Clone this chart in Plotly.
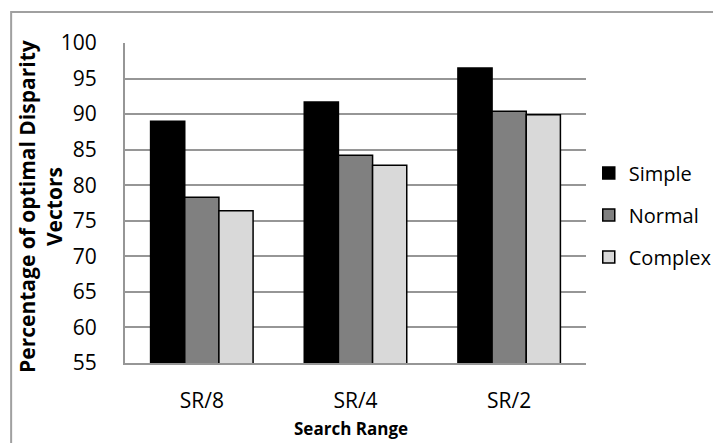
import plotly.graph_objects as go

# Search-range categories and the share of optimal disparity vectors per scene type
categories = ["SR/8", "SR/4", "SR/2"]
simple = [89.0, 91.7, 96.5]
normal = [78.3, 84.2, 90.4]
complex_ = [76.4, 82.8, 89.9]

series = [
    ("Simple", simple, "#000000"),
    ("Normal", normal, "#808080"),
    ("Complex", complex_, "#d9d9d9"),
]

FONT = "Open Sans, Lato, sans-serif"

fig = go.Figure()
for i, (name, vals, color) in enumerate(series):
    fig.add_trace(go.Bar(
        name=name,
        x=categories,
        y=vals,
        marker=dict(color=color, line=dict(color="#000000", width=1.5)),
        legendgroup=f"g{i}",
    ))

fig.update_layout(
    width=713,
    height=443,
    margin=dict(l=125, r=127, t=43, b=80, autoexpand=False),
    paper_bgcolor="white",
    plot_bgcolor="white",
    barmode="group",
    bargap=0.333,
    bargroupgap=0,
    font=dict(family=FONT, color="#000000"),
    showlegend=True,
    legend=dict(
        x=1.006, y=0.655, xanchor="left", yanchor="top",
        font=dict(size=20, family=FONT),
        traceorder="grouped",
        tracegroupgap=13,
        itemwidth=30,
        bgcolor="rgba(0,0,0,0)",
    ),
    xaxis=dict(
        showgrid=False,
        showline=True, linecolor="#969696", linewidth=2,
        ticks="", tickfont=dict(size=21, family=FONT),
        ticklabelstandoff=18,
    ),
    yaxis=dict(
        range=[55, 100],
        tickvals=list(range(55, 101, 5)),
        showgrid=True, gridcolor="#969696", gridwidth=2,
        showline=True, linecolor="#969696", linewidth=2,
        zeroline=False,
        ticks="", tickfont=dict(size=21, family=FONT),
        ticklabelstandoff=22,
    ),
)

# Axis titles
fig.add_annotation(
    text="<b>Percentage of optimal Disparity<br>Vectors</b>",
    textangle=-90, xref="paper", yref="paper",
    x=-0.185, y=0.49, xanchor="center", yanchor="middle",
    showarrow=False, font=dict(size=21, family=FONT),
)
fig.add_annotation(
    text="<b>Search Range</b>",
    xref="paper", yref="paper",
    x=0.49, y=-0.205, xanchor="center", yanchor="middle",
    showarrow=False, font=dict(size=17, family=FONT),
)

# Outer chart frame
fig.add_shape(
    type="rect", xref="paper", yref="paper",
    x0=-0.247, x1=1.6, y0=-0.5, y1=1.097,
    line=dict(color="#a0a0a0", width=2), layer="above",
)

fig.write_html("out.html")
